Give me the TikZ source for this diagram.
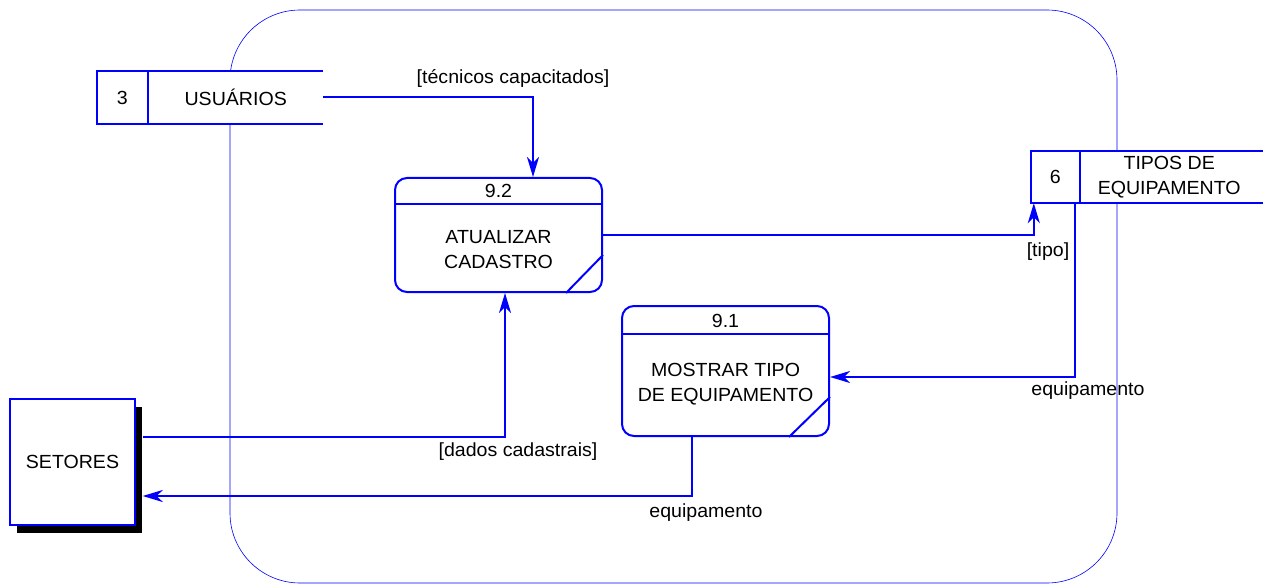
\documentclass[tikz,border=0pt]{standalone}
\usepackage{fontspec}
\setmainfont[FakeStretch=1.03]{Liberation Sans}
\usepackage{tikz}
\usepackage{xcolor}
\usetikzlibrary{arrows.meta,shadows}
\definecolor{dfd-blue}{RGB}{0,0,255}
\tikzset{
    process-box/.style = {draw=dfd-blue, fill=white, line width=2pt, rectangle, rounded corners=12pt, minimum width=207pt, inner sep=0pt},
    store-box/.style = {fill=white, rectangle, minimum height=52pt, inner sep=0pt},
    store-line/.style = {draw=dfd-blue, line width=2pt},
    entity-box/.style = {draw=dfd-blue, fill=white, line width=1.4pt, rectangle, minimum width=125pt, minimum height=126pt, drop shadow={shadow xshift=7pt, shadow yshift=-8pt, fill=black, opacity=1}},
    flow/.style = {draw=dfd-blue, line width=2pt, -{Stealth[length=20pt, width=12pt, inset=6pt]}},
    frame-line/.style = {draw=dfd-blue, line width=0.6pt, rounded corners=70pt},
}

\begin{document}
\begin{tikzpicture}[x=1pt, y=-1pt, font=\fontsize{19}{25}\selectfont]
\useasboundingbox (0,0) rectangle (1263,585);
\draw[frame-line] (230,10) rectangle (1117,583);

% data stores
\node[store-box, minimum width=226pt] (usuarios) at (210,97.5) {};
\draw[store-line] (usuarios.north east) -- (usuarios.north west) -- (usuarios.south west) -- (usuarios.south east);
\draw[store-line] ([xshift=51]usuarios.north west) -- ([xshift=51]usuarios.south west);
\node (usuarios-id) at ([xshift=25.5]usuarios.west) {3};
\node (usuarios-name) at ([xshift=-87.5]usuarios.east) {USUÁRIOS};

\node[store-box, minimum width=232pt] (tipos) at (1147,177) {};
\draw[store-line] (tipos.north east) -- (tipos.north west) -- (tipos.south west) -- (tipos.south east);
\draw[store-line] ([xshift=49]tipos.north west) -- ([xshift=49]tipos.south west);
\node (tipos-id) at ([xshift=24.5]tipos.west) {6};
\node[align=center] (tipos-name) at ([xshift=-94]tipos.east) {TIPOS DE\\EQUIPAMENTO};

% processes
\node[process-box, minimum height=114pt] (atualizar) at (498.5,235) {};
\draw[store-line] ([yshift=-27]atualizar.north west) -- ([yshift=-27]atualizar.north east);
\draw[store-line] ([xshift=-37]atualizar.south east) -- ([yshift=38]atualizar.south east);
\node (atualizar-id) at ([yshift=-14]atualizar.north) {9.2};
\node[align=center] (atualizar-name) at ([yshift=-15]atualizar.center) {ATUALIZAR\\CADASTRO};

\node[process-box, minimum height=130pt] (mostrar) at (725.5,371) {};
\draw[store-line] ([yshift=-29]mostrar.north west) -- ([yshift=-29]mostrar.north east);
\draw[store-line] ([xshift=-41]mostrar.south east) -- ([yshift=40]mostrar.south east);
\node (mostrar-id) at ([yshift=-16]mostrar.north) {9.1};
\node[align=center] (mostrar-name) at ([yshift=-13]mostrar.center) {MOSTRAR TIPO\\DE EQUIPAMENTO};

% external entity
\node[entity-box] (setores) at (72.5,462) {SETORES};

% flows
\draw[flow] (usuarios.east) -| ([xshift=34.5]atualizar.north);
\draw[flow] (atualizar.east) -| ([xshift=3]tipos.south west);
\draw[flow] ([xshift=44]tipos.south west) |- ([yshift=-6]mostrar.east);
\draw[flow] ([xshift=7,yshift=25]setores.east) -| ([xshift=6.5]atualizar.south);
\draw[flow] ([xshift=-33.5]mostrar.south) |- ([xshift=7,yshift=-34]setores.east);

% flow labels
\node (label-tecnicos) at (513,78) {[técnicos capacitados]};
\node (label-tipo) at (1048,252) {[tipo]};
\node (label-equip-1) at (1088,391) {equipamento};
\node (label-dados) at (518,452) {[dados cadastrais]};
\node (label-equip-2) at (706,513) {equipamento};
\end{tikzpicture}
\end{document}
